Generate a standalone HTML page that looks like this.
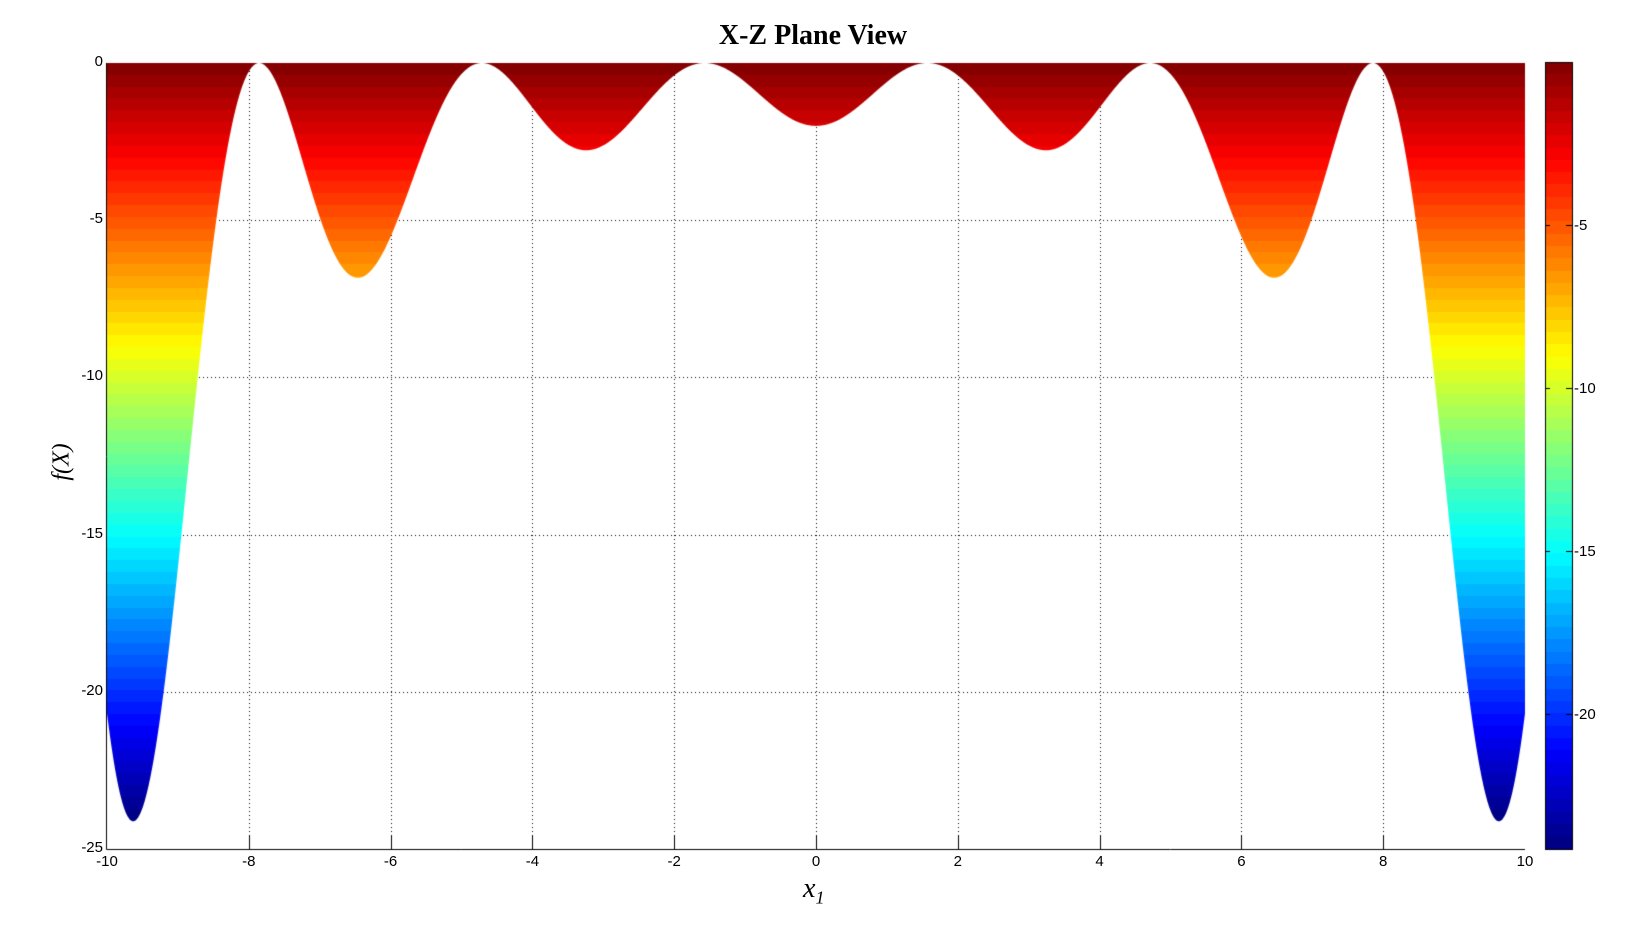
<!DOCTYPE html>
<html><head><meta charset="utf-8"><style>
html,body{margin:0;padding:0;background:#fff;}
body{width:1632px;height:945px;position:relative;overflow:hidden;font-family:"Liberation Sans",sans-serif;}
canvas{position:absolute;left:0;top:0;}
.t{position:absolute;font-size:15px;color:#000;white-space:nowrap;}
</style></head><body>
<canvas id="c" width="1632" height="945"></canvas>
<div style="position:absolute;left:0;width:1632px;top:20px;text-align:center;padding-left:0;font:bold 28px 'Liberation Serif',serif;"><span style="position:absolute;left:813px;transform:translateX(-50%)">X-Z Plane View</span></div>
<div style="position:absolute;left:803px;top:873px;font:italic 28px 'Liberation Serif',serif;">x<sub style="font-size:18px">1</sub></div>
<div style="position:absolute;left:62px;top:462px;transform:translate(-50%,-50%) rotate(-90deg);font:italic 24px 'Liberation Serif',serif;">f(X)</div>
<div id="lab"></div>
<script>
const c=document.getElementById('c'),g=c.getContext('2d');
const L=107,R=1525,T=63,B=849;
const X=x=>L+(x+10)*(R-L)/20, Y=v=>T-v*(B-T)/25;
function jet(t){const cl=v=>Math.max(0,Math.min(1,v));return [cl(1.5-Math.abs(4*t-3)),cl(1.5-Math.abs(4*t-2)),cl(1.5-Math.abs(4*t-1))].map(v=>Math.round(v*255));}
const P=[[3.2,2.78],[6.4,6.9],[9.6,24.85]];
const M=P.map(([x,d])=>{const u=x*x;return [u,u*u,u*u*u,d-2];});
for(let i=0;i<3;i++){for(let j=i+1;j<3;j++){const f=M[j][i]/M[i][i];for(let k=i;k<4;k++)M[j][k]-=f*M[i][k];}}
const s=[0,0,0];for(let i=2;i>=0;i--){let v=M[i][3];for(let k=i+1;k<3;k++)v-=M[i][k]*s[k];s[i]=v/M[i][i];}
const G=x=>{const u=x*x;return 2+s[0]*u+s[1]*u*u+s[2]*u*u*u;};
const F=x=>-Math.cos(x)*Math.cos(x)*G(x);
g.strokeStyle='#000';g.lineWidth=1;g.setLineDash([1,3]);
for(let x=-8;x<=8;x+=2){g.beginPath();g.moveTo(Math.round(X(x))+.5,T);g.lineTo(Math.round(X(x))+.5,B);g.stroke();}
for(let v=-5;v>=-20;v-=5){g.beginPath();g.moveTo(L,Math.round(Y(v))+.5);g.lineTo(R,Math.round(Y(v))+.5);g.stroke();}
g.setLineDash([]);
const vmin=-24.1,vmax=0;
const grad=g.createLinearGradient(0,Y(vmax),0,Y(vmin));
const N=64;for(let i=0;i<N;i++){const t0=i/N,t1=(i+1)/N;const col=jet(1-(t0+t1)/2);const cs='rgb('+col+')';grad.addColorStop(t0,cs);grad.addColorStop(Math.min(1,t1-1e-4),cs);}
g.fillStyle=grad;g.beginPath();g.moveTo(L,T);
for(let px=L;px<=R;px+=0.5){const x=-10+(px-L)*20/(R-L);g.lineTo(px,Y(F(x)));}
g.lineTo(R,T);g.closePath();g.fill();
g.strokeStyle='#000';g.beginPath();g.moveTo(L-.5,T);g.lineTo(L-.5,B+.5);g.lineTo(R,B+.5);g.stroke();
for(let x=-8;x<=8;x+=2){const p=Math.round(X(x))+.5;g.beginPath();g.moveTo(p,B);g.lineTo(p,B-14);g.stroke();}
const CL=1545,CR=1572,CT=62,CB=849;
for(let i=0;i<N;i++){const y0=CT+(CB-CT)*i/N,y1=CT+(CB-CT)*(i+1)/N;g.fillStyle='rgb('+jet(1-(i+.5)/N)+')';g.fillRect(CL,Math.floor(y0),CR-CL,Math.ceil(y1)-Math.floor(y0));}
g.strokeRect(CL+.5,CT+.5,CR-CL,CB-CT);
const cy=v=>225+(-5-v)*32.6;
let h='';
for(let v=-5;v>=-20;v-=5){const y=Math.round(cy(v))+.5;g.beginPath();g.moveTo(CL,y);g.lineTo(CL+5,y);g.moveTo(CR-6,y);g.lineTo(CR+1,y);g.stroke();
h+=`<div class="t" style="left:${CR+2}px;top:${y-9}px">${v}</div>`;}
for(let v=0;v>=-25;v-=5){h+=`<div class="t" style="right:${1632-L+4}px;top:${Y(v)-10}px">${v}</div>`;}
for(let x=-10;x<=10;x+=2){h+=`<div class="t" style="left:${X(x)}px;top:${B+4}px;transform:translateX(-50%)">${x}</div>`;}
document.getElementById('lab').innerHTML=h;
</script>
</body></html>
